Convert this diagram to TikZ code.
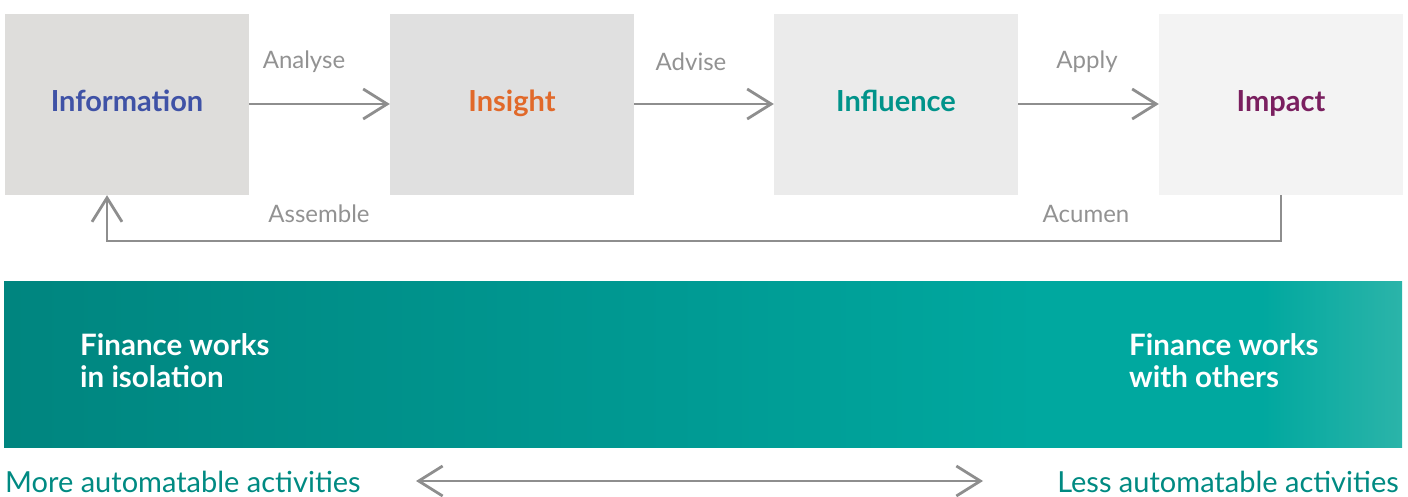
\documentclass[tikz,border=0pt]{standalone}
\usepackage{fontspec}
\setmainfont{Lato}
\usetikzlibrary{arrows.meta}
\definecolor{arrowgray}{HTML}{8E8E8E}
\definecolor{labgray}{HTML}{929292}
\definecolor{infoblue}{HTML}{3F52A6}
\definecolor{insorange}{HTML}{E1692A}
\definecolor{inflteal}{HTML}{00938A}
\definecolor{imppurple}{HTML}{7A1F5F}
\definecolor{bandA}{HTML}{00857F}
\definecolor{bandB}{HTML}{009B94}
\definecolor{bandC}{HTML}{00A89F}
\definecolor{bandD}{HTML}{2BB4A9}
\definecolor{bottomteal}{HTML}{008A82}
\pgfdeclarehorizontalshading{bandshade}{100bp}{color(0bp)=(bandA); color(25bp)=(bandA); color(50bp)=(bandB); color(62bp)=(bandC); color(70bp)=(bandC); color(75bp)=(bandD); color(100bp)=(bandD)}
\tikzset{
  stage/.style={minimum width=244pt, minimum height=181pt, inner sep=0pt, text height=21pt, text depth=6pt, font=\fontsize{29}{31}\selectfont\bfseries},
  flow/.style={draw=arrowgray, line width=2.8pt, -{Straight Barb[length=24pt,width=30pt,line width=2.8pt]}},
  flowlab/.style={text=labgray, font=\fontsize{24}{26}\selectfont, inner sep=0pt},
  bandtxt/.style={text=white, font=\fontsize{29.5}{32}\selectfont\bfseries, align=left, anchor=west, inner sep=0pt},
  bottxt/.style={text=bottomteal, font=\fontsize{29}{31}\selectfont, inner sep=0pt, text depth=0pt}
}
\begin{document}
\begin{tikzpicture}[x=1pt,y=-1pt]
\useasboundingbox (0,0) rectangle (1408,497);
\node[stage, fill={rgb,255:red,222;green,221;blue,219}, text=infoblue] (info) at (127,104.5) {Information};
\node[stage, fill={rgb,255:red,224;green,224;blue,224}, text=insorange] (ins) at (512,104.5) {Insight};
\node[stage, fill={rgb,255:red,235;green,235;blue,235}, text=inflteal] (infl) at (896,104.5) {Influence};
\node[stage, fill={rgb,255:red,243;green,243;blue,243}, text=imppurple] (imp) at (1281,104.5) {Impact};
\draw[flow] (info.east |- 0,104) -- (ins.west |- 0,104);
\draw[flow] (ins.east |- 0,104) -- (infl.west |- 0,104);
\draw[flow] (infl.east |- 0,104) -- (imp.west |- 0,104);
\node[flowlab] (lab1) at (304,62) {Analyse};
\node[flowlab] (lab2) at (691,62) {Advise};
\node[flowlab] (lab3) at (1087,62) {Apply};
\coordinate (c1) at (1281,241);
\coordinate (c2) at (107,241);
\draw[flow] (imp.south -| 1281,0) -- (c1) -- (c2) -- (info.south -| 107,0);
\node[flowlab] (lab4) at (319,214) {Assemble};
\node[flowlab] (lab5) at (1086,214) {Acumen};
\shade[shading=bandshade] (4,281) rectangle (1402,447);
\node[bandtxt] (l1) at (80,361) {Finance works\\in isolation};
\node[bandtxt] (l2) at (1129,361) {Finance works\\with others};
\node[bottxt, anchor=base west] (b1) at (5,492) {More automatable activities};
\node[bottxt, anchor=base east] (b2) at (1399,492) {Less automatable activities};
\coordinate (d1) at (416,481);
\coordinate (d2) at (983,481);
\draw[draw=arrowgray, line width=2.8pt, {Straight Barb[length=24pt,width=30pt,line width=2.8pt]}-{Straight Barb[length=24pt,width=30pt,line width=2.8pt]}] (d1) -- (d2);
\end{tikzpicture}
\end{document}
